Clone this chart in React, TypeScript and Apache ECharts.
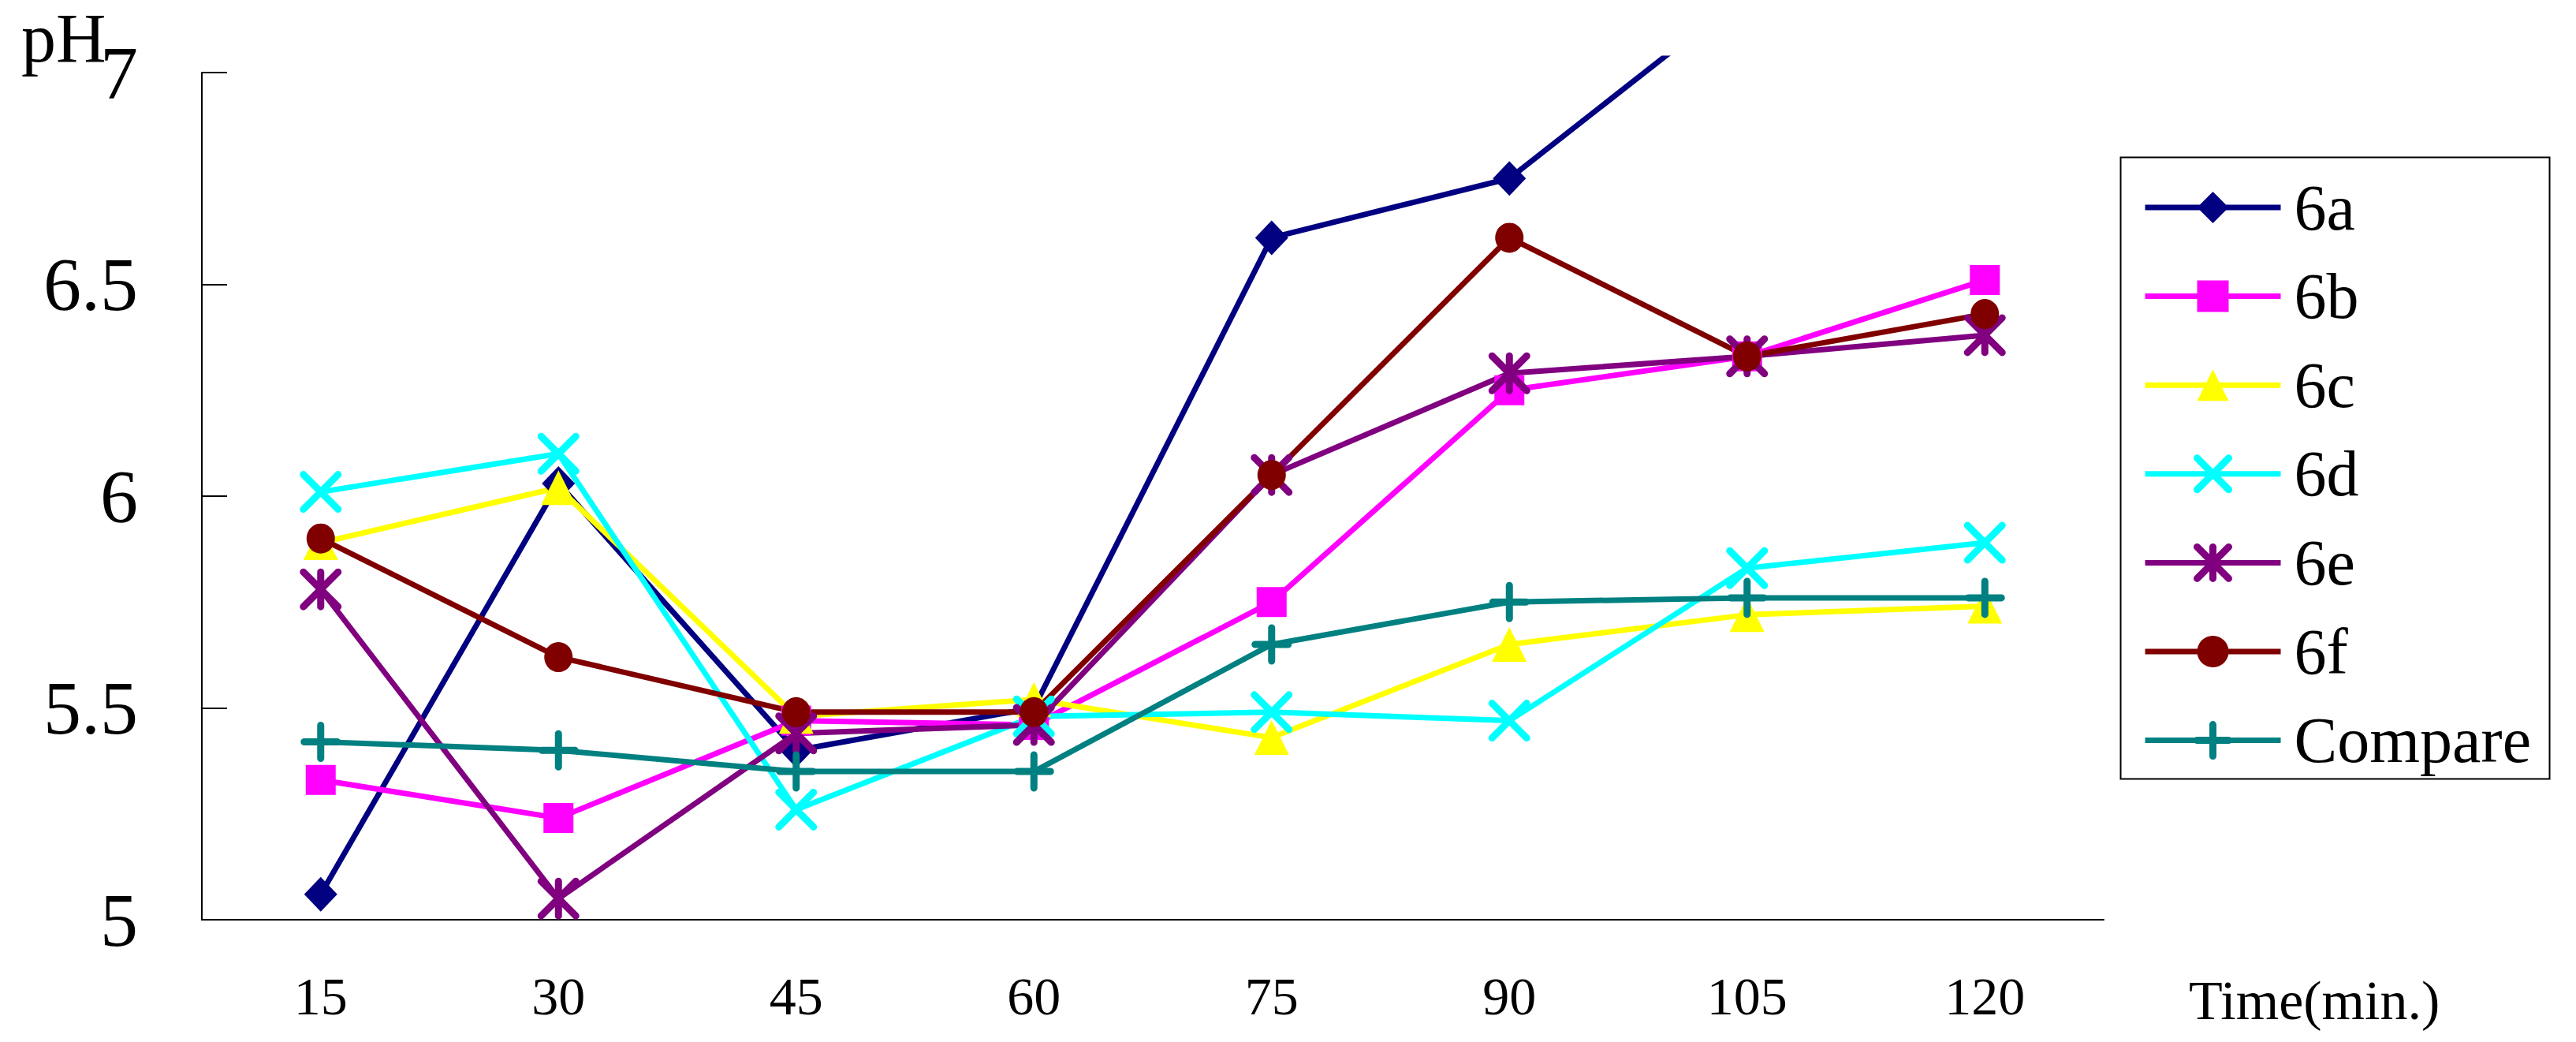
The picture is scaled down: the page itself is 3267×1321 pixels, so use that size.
import React, { useEffect, useRef } from 'react';
import * as echarts from 'echarts';

const categories = ['15', '30', '45', '60', '75', '90', '105', '120'];
const seriesNames = ['6a', '6b', '6c', '6d', '6e', '6f', 'Compare'];
const ph6a = [5.06, 6.03, 5.4, 5.5, 6.61, 6.75, 7.19, 7.3];
const ph6b = [5.33, 5.24, 5.47, 5.46, 5.75, 6.25, 6.33, 6.51];
const ph6c = [5.89, 6.02, 5.48, 5.52, 5.43, 5.65, 5.72, 5.74];
const ph6d = [6.01, 6.1, 5.26, 5.48, 5.49, 5.47, 5.83, 5.89];
const ph6e = [5.78, 5.05, 5.44, 5.46, 6.05, 6.29, 6.33, 6.38];
const ph6f = [5.9, 5.62, 5.49, 5.49, 6.05, 6.61, 6.33, 6.43];
const phCompare = [5.42, 5.4, 5.35, 5.35, 5.65, 5.75, 5.76, 5.76];

const yMin = 5;
const yMax = 7;
const yStep = 0.5;
// plot area of the original extends slightly above the last tick
const yClipMax = 7.0335;

const colors = ['#000080', '#FF00FF', '#FFFF00', '#00FFFF', '#800080', '#800000', '#008080'];
const symbols = [
  'diamond',
  'rect',
  'triangle',
  'path://M0,0L10,10M10,0L0,10',
  'path://M0,0L10,10M10,0L0,10M5,0L5,10',
  'circle',
  'path://M5,0L5,10M0,5L10,5',
];
const symbolSizes: any[] = [[42, 44], 38, [44, 44], 44, 44, [36, 38], 42];
const strokeMarker = [false, false, false, true, true, false, true];
const values = [ph6a, ph6b, ph6c, ph6d, ph6e, ph6f, phCompare];

const FONT = 'Liberation Serif';

export default function App() {
  const ref = useRef<HTMLDivElement>(null);
  useEffect(() => {
    document.body.style.margin = '0';
    const chart = echarts.init(ref.current!, null, { renderer: 'svg' });
    const left = 256;
    const right = 599;
    const bottom = 155;
    const markerStyle = (i: number) =>
      strokeMarker[i]
        ? { color: colors[i], borderColor: colors[i], borderWidth: 9, borderCap: 'round' }
        : { color: colors[i], borderWidth: 0 };
    const option: any = {
      animation: false,
      backgroundColor: '#ffffff',
      textStyle: { fontFamily: FONT },
      grid: [
        { left, right, top: 92, bottom, containLabel: false },
        { left, right, top: 74, bottom, containLabel: false },
      ],
      xAxis: [
        {
          type: 'category',
          gridIndex: 0,
          data: categories,
          boundaryGap: true,
          axisLine: { lineStyle: { color: '#000', width: 2 } },
          axisTick: { inside: true, length: 20, lineStyle: { color: '#000', width: 2 } },
          axisLabel: { color: '#000', fontSize: 68, fontFamily: FONT, margin: 63 },
          splitLine: { show: false },
        },
        {
          type: 'category',
          gridIndex: 1,
          data: categories,
          boundaryGap: true,
          show: false,
        },
      ],
      yAxis: [
        {
          type: 'value',
          gridIndex: 0,
          min: yMin,
          max: yMax,
          interval: yStep,
          axisLine: { show: true, lineStyle: { color: '#000', width: 2 } },
          axisTick: { show: true, inside: true, length: 32, lineStyle: { color: '#000', width: 2 } },
          axisLabel: {
            color: '#000',
            fontSize: 96,
            fontFamily: FONT,
            margin: 81,
            padding: [14, 0, 0, 0],
          },
          splitLine: { show: false },
        },
        {
          type: 'value',
          gridIndex: 1,
          min: yMin,
          max: yClipMax,
          show: false,
          splitLine: { show: false },
        },
      ],
      legend: {
        orient: 'vertical',
        left: 2717,
        top: 222,
        padding: 0,
        itemWidth: 172,
        itemHeight: 50,
        itemGap: 30.6,
        selectedMode: false,
        data: seriesNames.map((name, i) => ({ name, itemStyle: markerStyle(i) })),
        lineStyle: { width: 7 },
        textStyle: {
          color: '#000',
          fontSize: 82,
          fontFamily: FONT,
          padding: [0, 0, 0, 12],
        },
      },
      graphic: [
        {
          type: 'rect',
          left: 2687,
          top: 197,
          shape: { width: 544, height: 788 },
          style: { fill: 'none', stroke: '#000', lineWidth: 2 },
          z: 0,
        },
        {
          type: 'text',
          x: 27,
          y: 48,
          style: {
            text: 'pH',
            fontSize: 88,
            fontFamily: FONT,
            fill: '#000',
            align: 'left',
            verticalAlign: 'middle',
          },
        },
        {
          type: 'text',
          x: 2776,
          y: 1268,
          style: {
            text: 'Time(min.)',
            fontSize: 70,
            fontFamily: FONT,
            fill: '#000',
            align: 'left',
            verticalAlign: 'middle',
          },
        },
      ],
      series: seriesNames.map((name, i) => ({
        name,
        type: 'line',
        xAxisIndex: 1,
        yAxisIndex: 1,
        data: values[i],
        symbol: symbols[i],
        symbolSize: symbolSizes[i],
        showSymbol: true,
        clip: true,
        lineStyle: { color: colors[i], width: 7 },
        itemStyle: markerStyle(i),
        emphasis: { disabled: true },
      })),
    };
    chart.setOption(option);
    return () => chart.dispose();
  }, []);
  return <div ref={ref} style={{ width: 3267, height: 1321 }} />;
}
